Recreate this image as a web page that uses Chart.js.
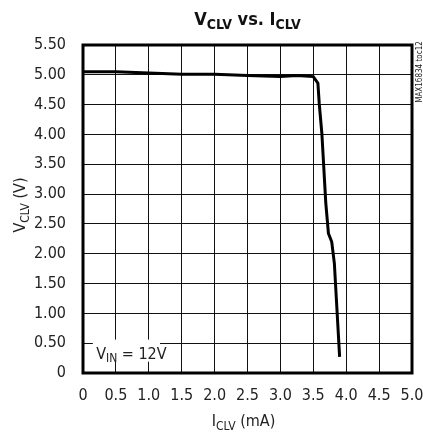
<!DOCTYPE html>
<html>
<head>
<meta charset="utf-8">
<script src="https://cdn.jsdelivr.net/npm/chart.js@4/dist/chart.umd.min.js"></script>
<style>
html, body { margin: 0; padding: 0; background: #fff; }
</style>
</head>
<body>
<canvas id="chart" width="423" height="435"></canvas>
<script>
// V_CLV vs I_CLV curve
const currentMA = [0, 0.5, 1.0, 1.5, 2.0, 2.5, 3.0, 3.25, 3.5, 3.57, 3.59, 3.63, 3.69, 3.73, 3.78, 3.82, 3.9];
const voltageV = [5.05, 5.05, 5.03, 5.01, 5.01, 4.99, 4.97, 4.99, 4.97, 4.86, 4.52, 4.02, 2.85, 2.34, 2.2, 1.84, 0.27];

const xTickLabels = ['0', '0.5', '1.0', '1.5', '2.0', '2.5', '3.0', '3.5', '4.0', '4.5', '5.0'];
const yTickLabels = ['0', '0.50', '1.00', '1.50', '2.00', '2.50', '3.00', '3.50', '4.00', '4.50', '5.00', '5.50'];

const FONT = "'Liberation Sans Narrow', 'Arial Narrow', 'DejaVu Sans Condensed', sans-serif";

// draw text made of normal + subscript parts
function drawRich(ctx, parts, x, y, size, weight, align) {
    const subSize = Math.round(size * 0.75);
    let total = 0;
    parts.forEach(p => {
        ctx.font = weight + ' ' + (p.sub ? subSize : size) + 'px ' + FONT;
        p.w = ctx.measureText(p.t).width;
        total += p.w;
    });
    let cx = align === 'center' ? x - total / 2 : x;
    ctx.textAlign = 'left';
    ctx.textBaseline = 'alphabetic';
    parts.forEach(p => {
        ctx.font = weight + ' ' + (p.sub ? subSize : size) + 'px ' + FONT;
        ctx.fillText(p.t, cx, p.sub ? y + size * 0.22 : y);
        cx += p.w;
    });
}

const decorations = {
    id: 'decorations',
    afterDatasetsDraw(chart) {
        const ctx = chart.ctx;
        const area = chart.chartArea;
        const xs = chart.scales.x, ys = chart.scales.y;
        ctx.save();

        // V_IN label box
        const bx0 = xs.getPixelForValue(0.15), bx1 = xs.getPixelForValue(1.17);
        const by0 = ys.getPixelForValue(0.56), by1 = ys.getPixelForValue(0.19);
        ctx.fillStyle = '#fff';
        ctx.fillRect(bx0, by0, bx1 - bx0, by1 - by0);
        ctx.fillStyle = '#222';
        drawRich(ctx, [{t: 'V'}, {t: 'IN', sub: true}, {t: ' = 12V'}],
            xs.getPixelForValue(0.2), ys.getPixelForValue(0.24), 16, 'normal', 'left');

        // frame
        ctx.strokeStyle = '#000';
        ctx.lineWidth = 3;
        ctx.strokeRect(area.left, area.top, area.right - area.left, area.bottom - area.top);

        // title
        ctx.fillStyle = '#111';
        drawRich(ctx, [{t: 'V'}, {t: 'CLV', sub: true}, {t: ' vs. I'}, {t: 'CLV', sub: true}],
            (area.left + area.right) / 2, 25, 18, 'bold', 'center');

        // axis titles
        ctx.fillStyle = '#222';
        drawRich(ctx, [{t: 'I'}, {t: 'CLV', sub: true}, {t: ' (mA)'}],
            (area.left + area.right) / 2 - 4, 426, 16, 'normal', 'center');
        ctx.save();
        ctx.translate(25, (area.top + area.bottom) / 2 - 4);
        ctx.rotate(-Math.PI / 2);
        drawRich(ctx, [{t: 'V'}, {t: 'CLV', sub: true}, {t: ' (V)'}], 0, 0, 16, 'normal', 'center');
        ctx.restore();

        // part tag
        ctx.save();
        ctx.translate(422, 72);
        ctx.rotate(-Math.PI / 2);
        ctx.font = '8px ' + FONT;
        ctx.fillStyle = '#222';
        ctx.textAlign = 'center';
        ctx.fillText('MAX16834 toc12', 0, 0);
        ctx.restore();

        ctx.restore();
    }
};

const ctx = document.getElementById('chart').getContext('2d');
new Chart(ctx, {
    type: 'line',
    data: {
        datasets: [{
            data: currentMA.map((x, i) => ({x: x, y: voltageV[i]})),
            borderColor: '#000',
            borderWidth: 3,
            pointRadius: 0,
            tension: 0,
            fill: false
        }]
    },
    options: {
        responsive: false,
        animation: false,
        devicePixelRatio: 1,
        layout: { padding: { top: 45, right: 11, left: 0, bottom: 0 } },
        plugins: {
            legend: { display: false },
            tooltip: { enabled: false },
            title: { display: false }
        },
        scales: {
            x: {
                type: 'linear',
                min: 0,
                max: 5,
                afterFit: s => { s.height = 62; s.paddingLeft = 0; s.paddingRight = 0; },
                border: { display: false },
                grid: { color: '#111', lineWidth: 1, drawTicks: false },
                ticks: {
                    stepSize: 0.5,
                    padding: 13,
                    color: '#222',
                    font: { family: FONT, size: 16 },
                    maxRotation: 0,
                    autoSkip: false,
                    callback: (v, i) => xTickLabels[i]
                }
            },
            y: {
                min: 0,
                max: 5.5,
                afterFit: s => { s.width = 83; s.paddingTop = 0; s.paddingBottom = 0; },
                border: { display: false },
                grid: { color: '#111', lineWidth: 1, drawTicks: false },
                ticks: {
                    stepSize: 0.5,
                    padding: 17,
                    color: '#222',
                    font: { family: FONT, size: 16 },
                    autoSkip: false,
                    callback: (v, i) => yTickLabels[i]
                }
            }
        }
    },
    plugins: [decorations]
});
</script>
</body>
</html>
